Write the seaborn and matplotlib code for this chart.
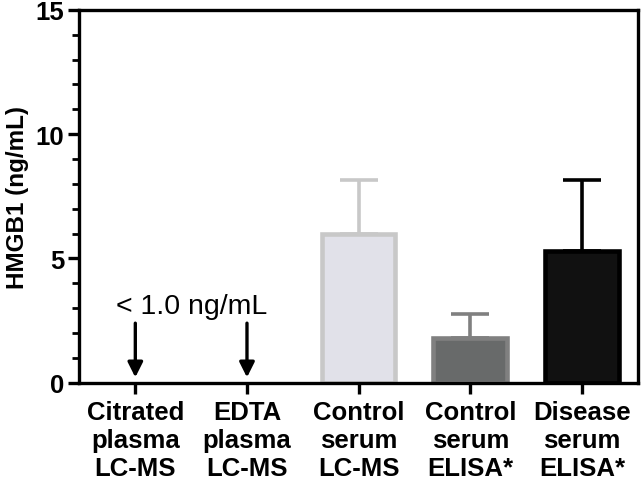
import matplotlib
matplotlib.use("Agg")
import matplotlib.pyplot as plt
import numpy as np
import pandas as pd
import seaborn as sns

CATEGORIES = ["Citrated\nplasma\nLC-MS", "EDTA\nplasma\nLC-MS", "Control\nserum\nLC-MS",
              "Control\nserum\nELISA*", "Disease\nserum\nELISA*"]
MEANS = [np.nan, np.nan, 6.0, 1.8, 5.3]
UPPER_ERR = [0.0, 0.0, 2.15, 0.95, 2.85]
FILL_COLORS = ["#ffffff", "#ffffff", "#e0e0ea", "#676b6b", "#111111"]
EDGE_COLORS = ["#ffffff", "#ffffff", "#c8c8c8", "#808080", "#000000"]
NOTE = "< 1.0 ng/mL"

sns.set_style("ticks")
plt.rcParams["font.family"] = ["Liberation Sans", "DejaVu Sans"]
plt.rcParams["text.color"] = "black"
plt.rcParams["axes.labelcolor"] = "black"
plt.rcParams["xtick.color"] = "black"
plt.rcParams["ytick.color"] = "black"

df = pd.DataFrame({"group": CATEGORIES, "hmgb1": MEANS})

fig = plt.figure(figsize=(6.41, 4.89), dpi=100)
ax = fig.add_axes([0.124, 0.215, 0.871, 0.763])

# error bars first so the bars sit on top of the lower half
for i, (m, e, c) in enumerate(zip(MEANS, UPPER_ERR, EDGE_COLORS)):
    if np.isnan(m):
        continue
    ax.errorbar(i, m, yerr=[[0], [e]], color=c, lw=2.6, capsize=14, capthick=2.6, zorder=1)

sns.barplot(data=df, x="group", y="hmgb1", hue="group", palette=FILL_COLORS,
            legend=False, errorbar=None, width=0.66, ax=ax, zorder=2)
for patch, ec in zip(ax.patches, [c for m, c in zip(MEANS, EDGE_COLORS) if not np.isnan(m)]):
    patch.set_edgecolor(ec)
    patch.set_linewidth(3.3)

# "below detection" arrows
for i in [0, 1]:
    ax.annotate("", xy=(i, 0.22), xytext=(i, 2.4),
                arrowprops=dict(arrowstyle="-|>,head_length=0.9,head_width=0.45",
                                color="black", lw=2.4, shrinkA=0, shrinkB=0))
ax.text(0.5, 3.1, NOTE, ha="center", va="center", fontsize=20.5)

ax.set_xlim(-0.5, 4.5)
ax.set_ylim(0, 15)
ax.set_yticks([0, 5, 10, 15])
ax.set_yticks(np.arange(0, 16, 1), minor=True)
ax.set_xlabel("")
ax.set_ylabel("HMGB1 (ng/mL)", fontsize=17.5, fontweight="bold", labelpad=5)

for side in ["left", "right", "top", "bottom"]:
    ax.spines[side].set_visible(True)
    ax.spines[side].set_linewidth(2.4)
    ax.spines[side].set_color("black")

ax.tick_params(axis="both", which="major", length=8, width=2.4, direction="out")
ax.tick_params(axis="y", which="minor", length=5, width=2.0, direction="out")
ax.tick_params(axis="y", labelsize=18.5, pad=3)
ax.tick_params(axis="x", labelsize=18.5, pad=4)
for lab in ax.get_yticklabels() + ax.get_xticklabels():
    lab.set_fontweight("bold")
for lab in ax.get_xticklabels():
    lab.set_linespacing(1.22)

fig.savefig("out.png", dpi=100)
